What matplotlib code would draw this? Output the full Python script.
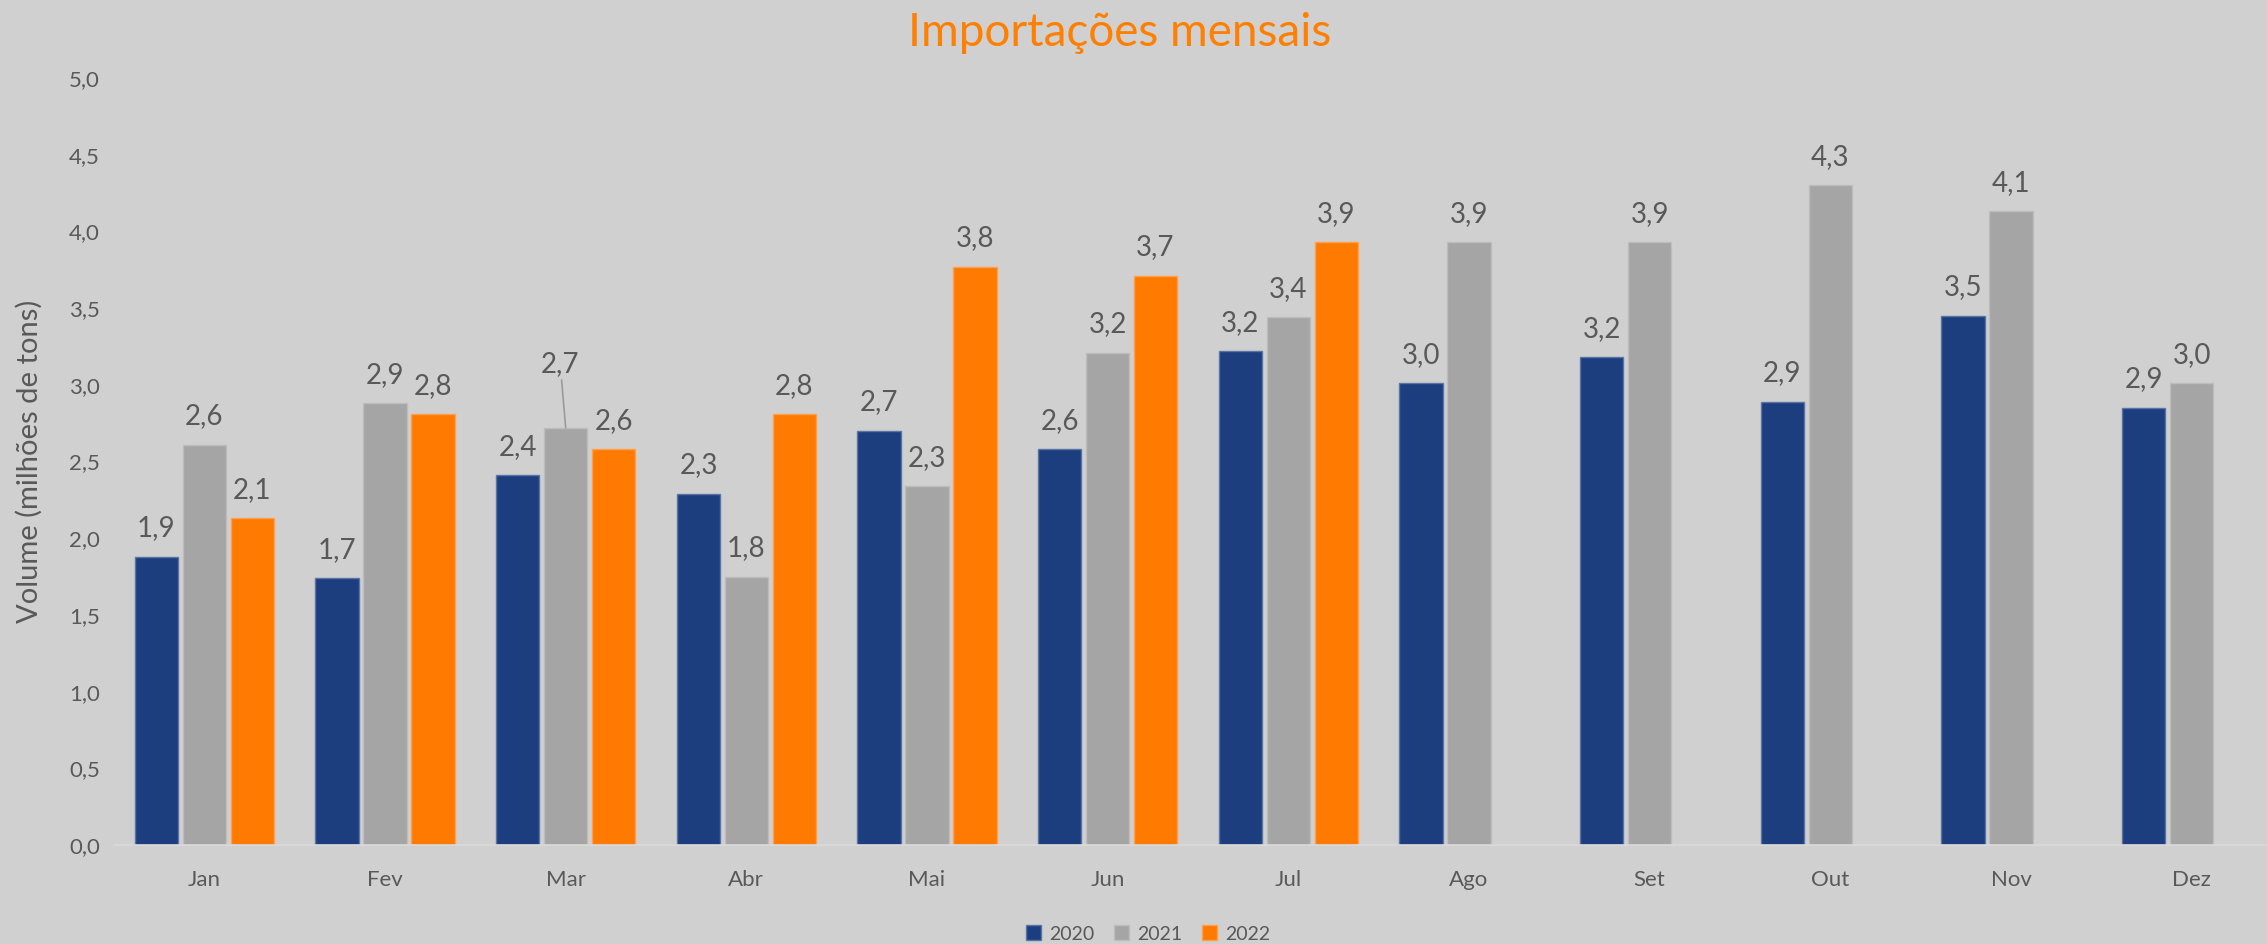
import numpy as np
import matplotlib.pyplot as plt

months = ['Jan', 'Fev', 'Mar', 'Abr', 'Mai', 'Jun', 'Jul', 'Ago', 'Set', 'Out', 'Nov', 'Dez']
v2020 = [1.88, 1.74, 2.41, 2.29, 2.70, 2.58, 3.22, 3.01, 3.18, 2.89, 3.45, 2.85]
v2021 = [2.61, 2.88, 2.72, 1.75, 2.34, 3.21, 3.44, 3.93, 3.93, 4.30, 4.13, 3.01]
v2022 = [2.13, 2.81, 2.58, 2.81, 3.77, 3.71, 3.93, np.nan, np.nan, np.nan, np.nan, np.nan]
years = ['2020', '2021', '2022']
colors = ['#1C3E7E', '#A5A5A5', '#FF7A00']
edges = ['#5A74A6', '#BDBDBD', '#FFA04D']

bg = '#D0D0D0'
txt = '#595959'
plt.rcParams['font.family'] = ['Lato', 'DejaVu Sans']

fig = plt.figure(figsize=(22.67, 9.44), dpi=100, facecolor=bg)
ax = fig.add_axes([114 / 2267, 99 / 944, 2168 / 2267, 767 / 944])
ax.set_facecolor(bg)

x = np.arange(len(months))
w = 0.24
offs = [-0.265, 0, 0.265]
for vals, off, c, ec, yr in zip([v2020, v2021, v2022], offs, colors, edges, years):
    vals = np.array(vals, dtype=float)
    ax.bar(x + off, vals, w, color=c, edgecolor=ec, linewidth=1, label=yr, zorder=2)
    for xi, v in zip(x, vals):
        if np.isnan(v):
            continue
        lab = f'{v:.1f}'.replace('.', ',')
        if yr == '2021' and xi == 2:
            # label moved up with a leader line
            ax.annotate(lab, xy=(xi + off, v), xytext=(xi + off - 0.03, v + 0.33),
                        ha='center', va='bottom', fontsize=20, color=txt,
                        arrowprops=dict(arrowstyle='-', color='#9A9A9A', lw=1.2,
                                        shrinkA=0, shrinkB=0))
        else:
            ax.text(xi + off, v + 0.1, lab, ha='center', va='bottom', fontsize=20, color=txt)

ax.set_xlim(-0.5, 11.5)
ax.set_ylim(0, 5)
ax.set_yticks(np.arange(0, 5.01, 0.5))
ax.set_yticklabels([f'{t:.1f}'.replace('.', ',') for t in np.arange(0, 5.01, 0.5)])
ax.set_xticks(x)
ax.set_xticklabels(months)
ax.tick_params(axis='both', length=0, labelsize=16, colors=txt)
ax.tick_params(axis='x', pad=18)
ax.tick_params(axis='y', pad=10)
for s in ['top', 'right', 'left']:
    ax.spines[s].set_visible(False)
ax.spines['bottom'].set_color('#DADADA')
ax.spines['bottom'].set_linewidth(1.2)

ax.set_ylabel('Volume (milhões de tons)', fontsize=21, color=txt)
ax.yaxis.set_label_coords(-0.033, 0.5)

fig.text(1120 / 2267, 1 - 33 / 944, 'Importações mensais', ha='center', va='center',
         fontsize=33, color='#FF7F00')

fig.legend(loc='center', bbox_to_anchor=(1148 / 2267, 1 - 934 / 944), ncol=3, frameon=False,
           fontsize=14, labelcolor=txt, handlelength=0.8, handleheight=0.8,
           columnspacing=1.0, handletextpad=0.4)

fig.savefig('out.png', dpi=100, facecolor=bg)
